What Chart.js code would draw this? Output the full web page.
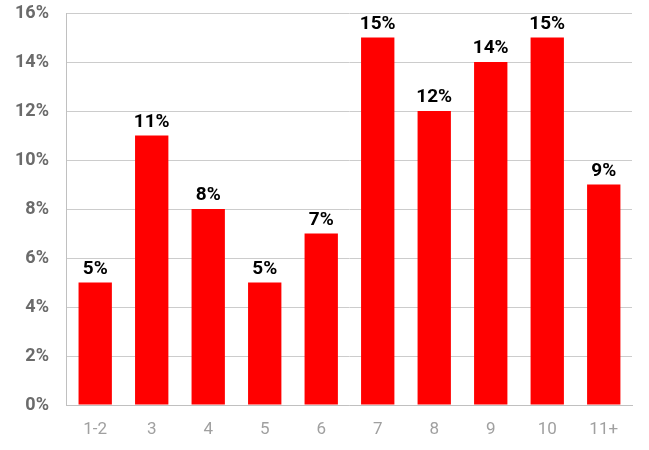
<!DOCTYPE html>
<html>
<head>
<meta charset="utf-8">
<script src="https://cdn.jsdelivr.net/npm/chart.js@4/dist/chart.umd.min.js"></script>
<style>
  html, body { margin: 0; padding: 0; background: #fff; }
  #wrap { width: 649px; height: 450px; }
</style>
</head>
<body>
<div id="wrap"><canvas id="chart" width="649" height="450"></canvas></div>
<script>
const categories = ['1-2', '3', '4', '5', '6', '7', '8', '9', '10', '11+'];
const shares = [5, 11, 8, 5, 7, 15, 12, 14, 15, 9];
const yMax = 16;
const yStep = 2;

// etiquetas em cima das barras
const barLabels = {
  id: 'barLabels',
  afterDatasetsDraw(chart) {
    const { ctx } = chart;
    const meta = chart.getDatasetMeta(0);
    ctx.save();
    ctx.font = 'bold 19px Roboto';
    ctx.fillStyle = '#000';
    ctx.textAlign = 'center';
    ctx.textBaseline = 'bottom';
    meta.data.forEach((bar, i) => {
      ctx.fillText(shares[i] + '%', bar.x, bar.y - 4);
    });
    ctx.restore();
  },
};

new Chart(document.getElementById('chart'), {
  type: 'bar',
  data: {
    labels: categories,
    datasets: [{
      data: shares,
      backgroundColor: '#ff0000',
      borderWidth: 0,
      barPercentage: 0.59,
      categoryPercentage: 1,
    }],
  },
  options: {
    responsive: false,
    animation: false,
    layout: { autoPadding: false, padding: { top: 13, right: 17, left: -3, bottom: 0 } },
    plugins: { legend: { display: false }, tooltip: { enabled: false } },
    scales: {
      x: {
        afterFit: (scale) => { scale.height = 45; },
        grid: { display: false, drawTicks: false },
        border: { color: '#c0c0c0', width: 1 },
        ticks: { color: '#a0a0a0', font: { family: 'Roboto', size: 17 }, padding: 15 },
      },
      y: {
        min: 0,
        max: yMax,
        afterFit: (scale) => { scale.paddingTop = 0; scale.paddingBottom = 0; },
        ticks: {
          stepSize: yStep,
          color: '#6b6b6b',
          font: { family: 'Roboto', size: 18, weight: 'bold' },
          padding: 18,
          callback: (v) => v + '%',
        },
        grid: { color: '#cccccc', drawTicks: false },
        border: { color: '#c0c0c0', width: 1 },
      },
    },
  },
  plugins: [barLabels],
});
</script>
</body>
</html>
